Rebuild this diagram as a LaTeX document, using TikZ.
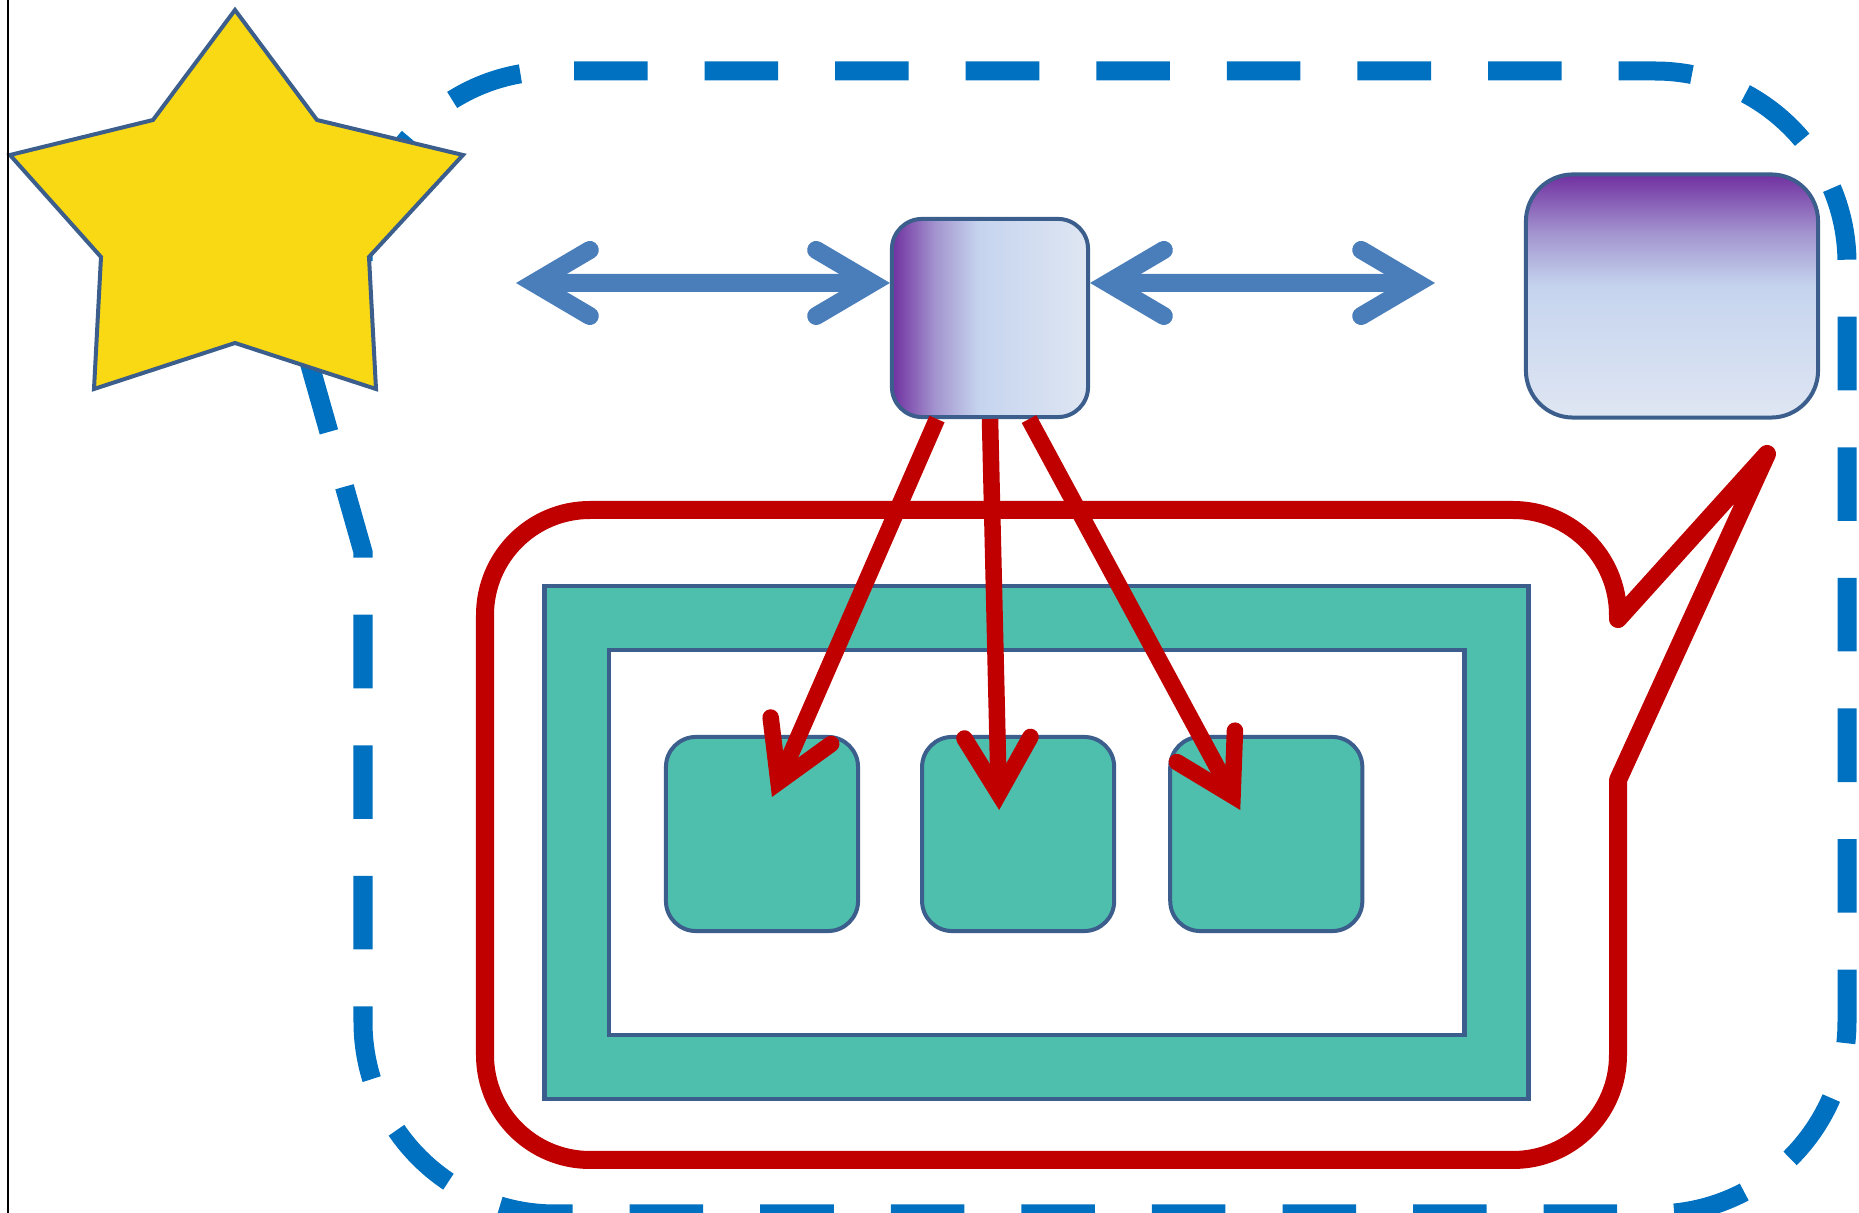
\documentclass[tikz,border=0pt]{standalone}
\usetikzlibrary{arrows.meta,positioning}

\definecolor{edgeblue}{HTML}{3B5E8C}
\definecolor{dashblue}{HTML}{0070C0}
\definecolor{linkblue}{HTML}{4A7EBB}
\definecolor{callred}{HTML}{C00000}
\definecolor{tealfill}{HTML}{4FBFAD}
\definecolor{staryellow}{HTML}{F9D914}
\definecolor{gpurple}{HTML}{7030A0}
\definecolor{glav}{HTML}{A394CF}
\definecolor{glblue}{HTML}{C5D4EE}
\definecolor{gpale}{HTML}{DFE6F3}

\pgfdeclarehorizontalshading{sideshade}{100bp}{color(0bp)=(gpurple); color(25bp)=(gpurple); color(36bp)=(glav); color(47bp)=(glblue); color(75bp)=(gpale); color(100bp)=(gpale)}
\pgfdeclareverticalshading{topshade}{100bp}{color(0bp)=(gpale); color(25bp)=(gpale); color(52bp)=(glblue); color(63bp)=(glav); color(75bp)=(gpurple); color(100bp)=(gpurple)}

\tikzset{chev/.tip={Straight Barb[length=5.6mm, width=6.6mm, line cap=round, line join=miter]}}

\begin{document}
\begin{tikzpicture}[x=0.01cm, y=-0.01cm, node distance=2.52cm, on grid,
    box/.style={draw=edgeblue, line width=0.04cm, rounded corners=0.3cm},
    cell/.style={box, fill=tealfill, minimum width=1.92cm, minimum height=1.94cm},
    plate/.style={draw=edgeblue, line width=0.045cm},
    link/.style={draw=linkblue, line width=0.18cm, chev-chev},
    pointer/.style={draw=callred, line width=0.165cm, -chev}]
    \useasboundingbox (0,0) rectangle (1859,1213);
    \draw[dashblue, line width=0.19cm, dash pattern=on 0.735cm off 0.57cm] (574,71) [rounded corners=1.92cm] -- (1847,71) -- (1847,1214) -- (363,1214) [sharp corners] -- (363,552) -- (300,330) -- (363,261) [rounded corners=1.9cm] -- (363,71) -- (574,71);
    \draw[edgeblue, line width=0.04cm, fill=staryellow] (235,10) -- (317,120) -- (463,155) -- (369,257) -- (376,389) -- (235,343) -- (94,389) -- (101,257) -- (10,155) -- (153,120) -- cycle;
    \draw[callred, line width=0.18cm, line join=round] (485,800) [rounded corners=1.05cm] -- (485,510) -- (1618,510) [sharp corners] -- (1618,619) -- (1767,454) -- (1618,780) [rounded corners=1.05cm] -- (1618,1160) -- (485,1160) -- cycle;
    \node[plate, fill=tealfill, minimum width=9.83cm, minimum height=5.13cm](frame) at (1036.5,842.5){};
    \node[plate, fill=white, minimum width=8.55cm, minimum height=3.85cm](pane) at (frame.center){};
    \node[cell](c1) at (762,834){};
    \node[cell, right =2.56cm of c1](c2){};
    \node[cell, right =2.48cm of c2](c3){};
    \node[box, shade, shading=sideshade, minimum width=1.96cm, minimum height=1.98cm](hub) at (990,318){};
    \node[box, shade, shading=topshade, rounded corners=0.47cm, minimum width=2.92cm, minimum height=2.43cm](store) at (1672,296){};
    \coordinate (lfree) at (516,283);
    \coordinate (rfree) at (1435,283);
    \draw[link] (lfree) -- ([yshift=0.35cm]hub.west);
    \draw[link] ([yshift=0.35cm]hub.east) -- (rfree);
    \draw[pointer] ([xshift=-0.53cm]hub.south) -- ([xshift=0.1cm, yshift=0.37cm]c1.center);
    \draw[pointer] (hub.south) -- ([xshift=-0.19cm, yshift=0.24cm]c2.center);
    \draw[pointer] ([xshift=0.39cm]hub.south) -- ([xshift=-0.26cm, yshift=0.24cm]c3.center);
    \draw[line width=0.02cm] (8,0) -- (8,1213);
  \end{tikzpicture}
\end{document}
